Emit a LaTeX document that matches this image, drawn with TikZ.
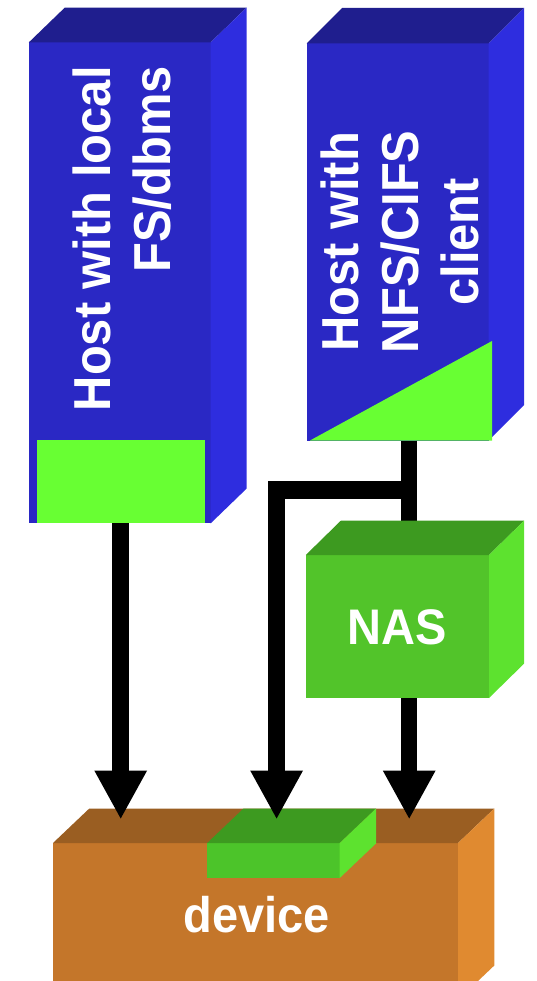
\documentclass[tikz,border=0pt]{standalone}
\usepackage{fontspec}
\setmainfont{Liberation Sans}[FakeStretch=0.94]
\usetikzlibrary{arrows.meta}
\definecolor{hfront}{HTML}{2A28C4}
\definecolor{htop}{HTML}{1F1E8E}
\definecolor{hside}{HTML}{2E2DDF}
\definecolor{hgreen}{HTML}{68FF33}
\definecolor{nfront}{HTML}{52C42A}
\definecolor{ntop}{HTML}{3D9A20}
\definecolor{nside}{HTML}{5DE22F}
\definecolor{cfront}{HTML}{4CC42A}
\definecolor{dfront}{HTML}{C4762A}
\definecolor{dtop}{HTML}{9A5E22}
\definecolor{dside}{HTML}{E08A30}
\begin{document}
\begin{tikzpicture}[x=1pt,y=-1pt,
  face/.style={inner sep=0pt, outer sep=0pt, draw=none},
  wire/.style={line width=16pt},
  conn/.style={line width=16.5pt, -{Triangle[width=49pt,length=49pt]}},
  lbl/.style={text=white, font=\fontsize{52}{60}\selectfont\bfseries, inner sep=0pt},
  lbls/.style={text=white, font=\fontsize{50}{60}\selectfont\bfseries, inner sep=0pt}]
\useasboundingbox (0,0) rectangle (537,981);
\clip (0,0) rectangle (537,981);

% Host 1
\node[face, fill=hfront, minimum width=181.8pt, minimum height=481pt] (host1) at (119.7,282.9) {};
\fill[htop] (host1.north west) -- ++(36,-34.8) -- ++(181.8,0) -- (host1.north east) -- cycle;
\fill[hside] (host1.north east) -- ++(36,-34.8) -- ++(0,481) -- (host1.south east) -- cycle;
\fill[hgreen] (36.6,439.5) rectangle (204.5,523.4);
\node[lbl, rotate=90, align=right] (t1) at (122.4,238.8) {Host with local\\FS/dbms};

% Host 2
\node[face, fill=hfront, minimum width=182pt, minimum height=397pt] (host2) at (397.5,242) {};
\fill[htop] (host2.north west) -- ++(35.5,-35.5) -- ++(182,0) -- (host2.north east) -- cycle;
\fill[hside] (host2.north east) -- ++(35.5,-35.5) -- ++(0,397) -- (host2.south east) -- cycle;
\fill[hgreen] (310,440.5) -- (492,341) -- (492,440.5) -- cycle;
\node[lbl, rotate=90, align=center] (t2) at (400,241.8) {Host with\\NFS/CIFS\\client};

% connectors (upper part)
\coordinate (j) at (409.2,489.8);
\coordinate (tip1) at (120.7,819.5);
\coordinate (tip2) at (276.6,819.5);
\coordinate (tip3) at (409.2,819.5);
\draw[wire] ([xshift=11.7pt]host2.south) -- (409.2,540);

% NAS
\node[face, fill=nfront, minimum width=183.2pt, minimum height=143pt] (nas) at (397.4,626.5) {};
\fill[ntop] (nas.north west) -- ++(35,-34.3) -- ++(183.2,0) -- (nas.north east) -- cycle;
\fill[nside] (nas.north east) -- ++(35,-34.3) -- ++(0,143) -- (nas.south east) -- cycle;
\node[lbls] (nastxt) at (397.3,627.5) {NAS};

% Device
\node[face, fill=dfront, minimum width=405pt, minimum height=157pt] (dev) at (255.5,921.5) {};
\fill[dtop] (dev.north west) -- ++(36.3,-34.5) -- ++(405,0) -- (dev.north east) -- cycle;
\fill[dside] (dev.north east) -- ++(36.3,-34.5) -- ++(0,157) -- (dev.south east) -- cycle;
\node[face, fill=cfront, minimum width=132.5pt, minimum height=35pt] (chip) at (273.45,860.5) {};
\fill[ntop] (chip.north west) -- ++(36.3,-34.5) -- ++(132.5,0) -- (chip.north east) -- cycle;
\fill[nside] (chip.north east) -- ++(36.3,-34.5) -- ++(0,35) -- (chip.south east) -- cycle;
\node[lbls] (devtxt) at (256.8,915) {device};

% connectors
\draw[conn] ([xshift=1pt]host1.south) -- (tip1);
\draw[line width=18pt] (j) -- (285,489.8);
\draw[conn, line width=17pt] (j) -| (tip2);
\draw[conn] ([xshift=11.8pt]nas.south) -- (tip3);
\end{tikzpicture}
\end{document}
